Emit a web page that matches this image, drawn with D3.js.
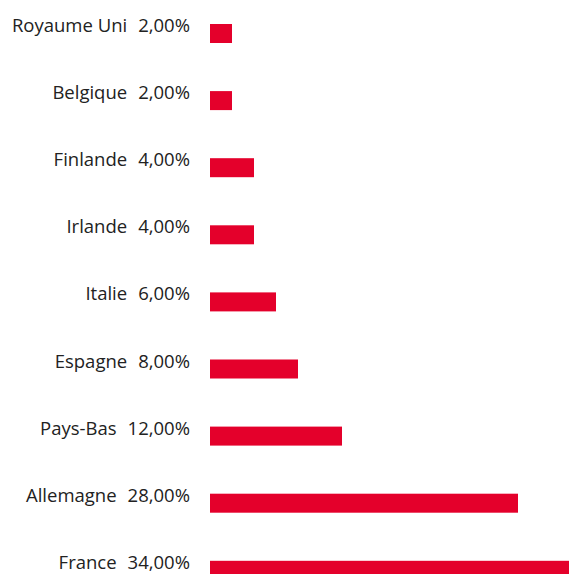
<!DOCTYPE html>
<html>
<head>
<meta charset="utf-8">
<script src="https://cdn.jsdelivr.net/npm/d3@7"></script>
<style>
  body { margin: 0; background: #fff; }
  svg { display: block; }
</style>
</head>
<body>
<div id="chart"></div>
<script>
// Répartition par pays, barres horizontales

const countries = ["Royaume Uni", "Belgique", "Finlande", "Irlande", "Italie", "Espagne", "Pays-Bas", "Allemagne", "France"];
const shares = [2, 2, 4, 4, 6, 8, 12, 28, 34];

const width = 569, height = 574;

const svg = d3.select("#chart")
    .append("svg")
    .attr("width", width)
    .attr("height", height);

const x = d3.scaleLinear()
    .domain([0, 34])
    .range([210, 584]); // France runs off the right edge

const y = d3.scaleBand()
    .domain(countries)
    .range([24, 24 + 8 * 67.1 + 19])
    .paddingInner(1 - 19 / 67.1)
    .paddingOuter(0);

const fmt = v => v.toFixed(2).replace(".", ",") + "%";

const rows = svg.append("g")
    .selectAll("g")
    .data(countries.map((c, i) => ({ name: c, value: shares[i] })))
    .join("g");

rows.append("rect")
    .attr("x", x(0))
    .attr("y", d => y(d.name))
    .attr("width", d => x(d.value) - x(0))
    .attr("height", y.bandwidth())
    .attr("fill", "#e4002b");

// label = nom + valeur, aligné à droite
const label = rows.append("text")
    .attr("x", 190)
    .attr("y", d => y(d.name) + 8)
    .attr("text-anchor", "end")
    .attr("font-family", "'Open Sans', sans-serif")
    .attr("font-size", 18.5)
    .attr("fill", "#222");

label.append("tspan").text(d => d.name);
label.append("tspan").attr("dx", 11).text(d => fmt(d.value));
</script>
</body>
</html>
